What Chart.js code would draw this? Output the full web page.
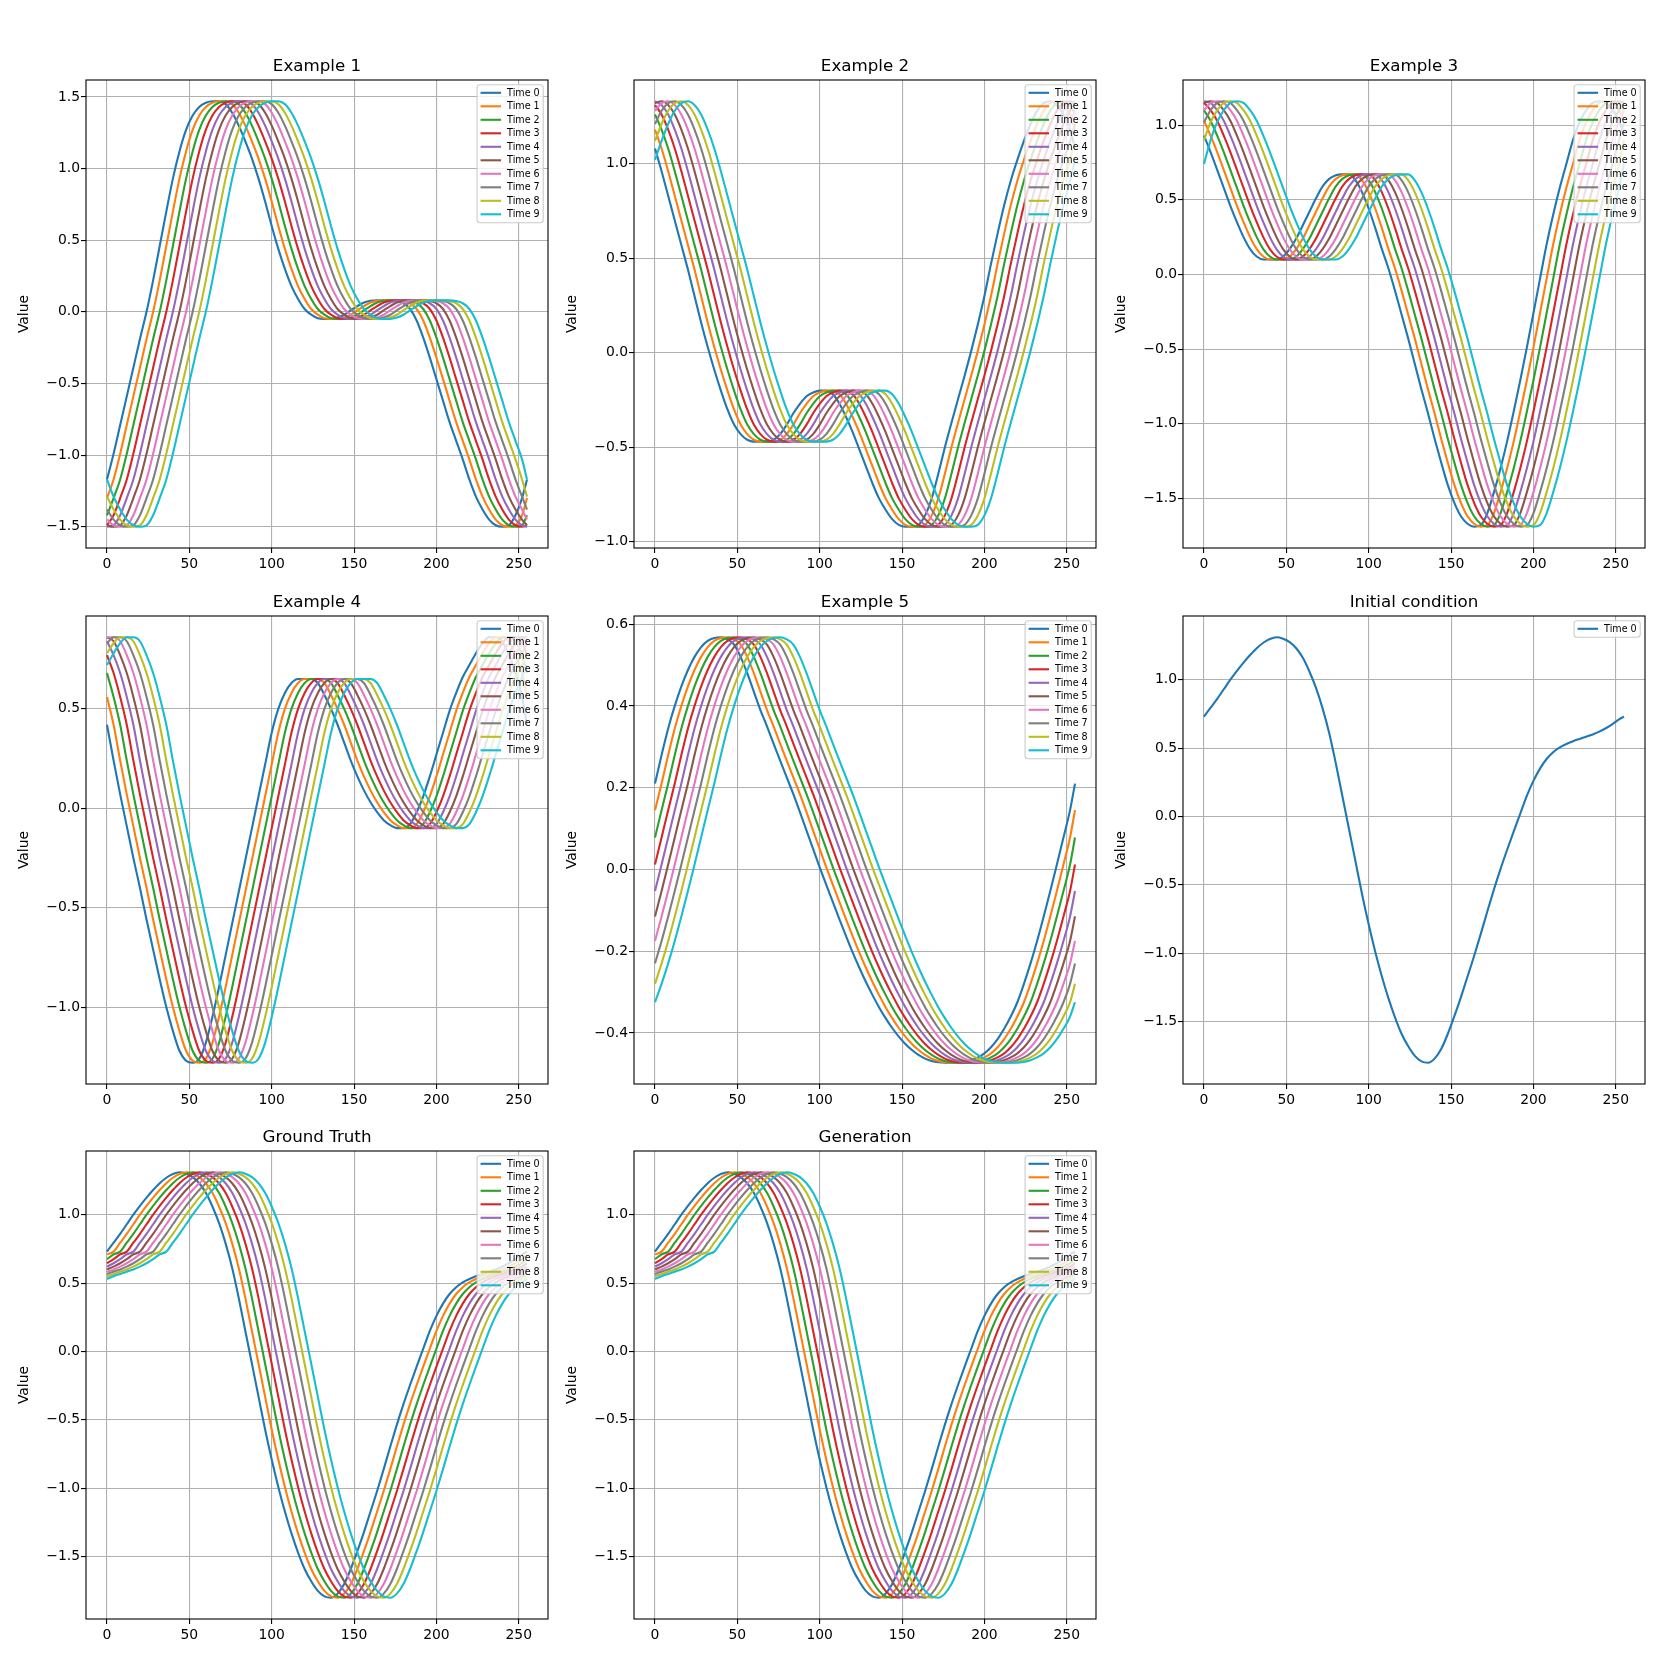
<!DOCTYPE html>
<html>
<head>
<meta charset="utf-8">
<title>Examples</title>
<script src="https://cdn.jsdelivr.net/npm/chart.js@4.4.1/dist/chart.umd.min.js"></script>
<style>
  html, body { margin: 0; padding: 0; background: #fff; }
  body { width: 1661px; height: 1661px; position: relative; overflow: hidden; }
  canvas { position: absolute; }
</style>
</head>
<body>
<script>
// Grid positions where the Time 0 curves were read (every 4th point of 0..255)
const gridX = [0, 4, 8, 12, 16, 20, 24, 28, 32, 36, 40, 44, 48, 52, 56, 60,
  64, 68, 72, 76, 80, 84, 88, 92, 96, 100, 104, 108, 112, 116, 120, 124,
  128, 132, 136, 140, 144, 148, 152, 156, 160, 164, 168, 172, 176, 180, 184, 188,
  192, 196, 200, 204, 208, 212, 216, 220, 224, 228, 232, 236, 240, 244, 248, 252];

// Time 0 values
const example1 = [-1.17, -0.99, -0.79, -0.59, -0.39, -0.19, 0.0, 0.22, 0.46, 0.7, 0.93, 1.12, 1.27, 1.37, 1.43, 1.46,
  1.47, 1.47, 1.45, 1.39, 1.3, 1.19, 1.07, 0.93, 0.77, 0.6, 0.44, 0.3, 0.18, 0.09, 0.02, -0.02,
  -0.045, -0.05, -0.05, -0.04, -0.02, 0.01, 0.04, 0.065, 0.078, 0.08, 0.08, 0.08, 0.075, 0.06, 0.02, -0.06,
  -0.18, -0.32, -0.47, -0.62, -0.77, -0.9, -1.03, -1.17, -1.29, -1.38, -1.45, -1.49, -1.5, -1.49, -1.42, -1.3];

const example2 = [1.08, 0.96, 0.83, 0.7, 0.57, 0.44, 0.3, 0.16, 0.03, -0.09, -0.2, -0.3, -0.38, -0.43, -0.46, -0.47,
  -0.47, -0.47, -0.46, -0.43, -0.38, -0.32, -0.27, -0.23, -0.21, -0.2, -0.2, -0.22, -0.27, -0.34, -0.42, -0.51,
  -0.6, -0.69, -0.77, -0.83, -0.88, -0.91, -0.92, -0.92, -0.91, -0.86, -0.77, -0.64, -0.5, -0.37, -0.245, -0.12,
  0.01, 0.15, 0.3, 0.47, 0.63, 0.78, 0.91, 1.02, 1.12, 1.21, 1.28, 1.32, 1.33, 1.31, 1.26, 1.18];

const example3 = [0.93, 0.82, 0.7, 0.58, 0.46, 0.35, 0.25, 0.17, 0.12, 0.1, 0.1, 0.1, 0.12, 0.17, 0.24, 0.33,
  0.42, 0.51, 0.59, 0.64, 0.665, 0.67, 0.67, 0.63, 0.55, 0.44, 0.31, 0.17, 0.04, -0.11, -0.27, -0.43,
  -0.6, -0.77, -0.93, -1.1, -1.26, -1.41, -1.53, -1.62, -1.67, -1.69, -1.68, -1.6, -1.46, -1.3, -1.12, -0.92,
  -0.71, -0.49, -0.26, -0.03, 0.2, 0.4, 0.58, 0.74, 0.9, 1.02, 1.1, 1.15, 1.16, 1.15, 1.1, 1.03];

const example4 = [0.42, 0.24, 0.07, -0.09, -0.25, -0.4, -0.56, -0.71, -0.86, -1.0, -1.12, -1.22, -1.27, -1.28, -1.26, -1.18,
  -1.05, -0.9, -0.74, -0.58, -0.42, -0.26, -0.1, 0.06, 0.22, 0.38, 0.5, 0.58, 0.63, 0.65, 0.65, 0.65,
  0.63, 0.57, 0.5, 0.42, 0.33, 0.24, 0.16, 0.09, 0.03, -0.02, -0.06, -0.085, -0.1, -0.1, -0.08, -0.02,
  0.06, 0.16, 0.27, 0.38, 0.49, 0.58, 0.66, 0.72, 0.78, 0.83, 0.86, 0.86, 0.84, 0.77, 0.68, 0.56];

const example5 = [0.21, 0.28, 0.345, 0.4, 0.448, 0.488, 0.52, 0.544, 0.559, 0.566, 0.568, 0.563, 0.55, 0.52, 0.48, 0.435,
  0.39, 0.35, 0.308, 0.266, 0.225, 0.184, 0.14, 0.095, 0.05, 0.005, -0.038, -0.08, -0.122, -0.163, -0.203, -0.24,
  -0.275, -0.307, -0.337, -0.364, -0.388, -0.409, -0.427, -0.442, -0.454, -0.463, -0.469, -0.472, -0.473, -0.473, -0.473, -0.471,
  -0.467, -0.46, -0.45, -0.435, -0.415, -0.39, -0.36, -0.325, -0.28, -0.23, -0.175, -0.115, -0.053, 0.012, 0.078, 0.145];

// also Time 0 of "Ground Truth" and "Generation" (they look the same)
const initialCondition = [0.73, 0.795, 0.86, 0.93, 1.0, 1.065, 1.125, 1.18, 1.23, 1.27, 1.297, 1.31, 1.3, 1.275, 1.23, 1.16,
  1.06, 0.94, 0.79, 0.61, 0.39, 0.15, -0.09, -0.33, -0.57, -0.79, -0.99, -1.17, -1.33, -1.47, -1.59, -1.68,
  -1.75, -1.79, -1.8, -1.77, -1.7, -1.59, -1.46, -1.32, -1.17, -1.02, -0.86, -0.695, -0.535, -0.385, -0.245, -0.11,
  0.02, 0.15, 0.26, 0.35, 0.42, 0.47, 0.505, 0.53, 0.55, 0.567, 0.583, 0.6, 0.62, 0.645, 0.675, 0.71];

// each later time is the Time 0 curve moved right by one read step (4 points)
const stepsPerTime = 1;
const lastX = 255;

const timeLabels = ['Time 0', 'Time 1', 'Time 2', 'Time 3', 'Time 4', 'Time 5', 'Time 6', 'Time 7', 'Time 8', 'Time 9'];

const xTicks = [0, 50, 100, 150, 200, 250];
const yTicks1 = [-1.5, -1.0, -0.5, 0.0, 0.5, 1.0, 1.5];
const yTicks2 = [-1.0, -0.5, 0.0, 0.5, 1.0];
const yTicks3 = [-1.5, -1.0, -0.5, 0.0, 0.5, 1.0];
const yTicks4 = [-1.0, -0.5, 0.0, 0.5];
const yTicks5 = [-0.4, -0.2, 0.0, 0.2, 0.4, 0.6];
const yTicksIC = [-1.5, -1.0, -0.5, 0.0, 0.5, 1.0];

const colors = ['#1f77b4', '#ff7f0e', '#2ca02c', '#d62728', '#9467bd',
  '#8c564b', '#e377c2', '#7f7f7f', '#bcbd22', '#17becf'];

// axes boxes (left, top) in page pixels, all 462 x 468
const AX_W = 462, AX_H = 468, SIDE = 86, HEAD = 40;
const panels = [
  { title: 'Example 1', base: example1, yTicks: yTicks1, times: 10, left: 86, top: 80 },
  { title: 'Example 2', base: example2, yTicks: yTicks2, times: 10, left: 634, top: 80 },
  { title: 'Example 3', base: example3, yTicks: yTicks3, times: 10, left: 1183, top: 80 },
  { title: 'Example 4', base: example4, yTicks: yTicks4, times: 10, left: 86, top: 616 },
  { title: 'Example 5', base: example5, yTicks: yTicks5, times: 10, left: 634, top: 616 },
  { title: 'Initial condition', base: initialCondition, yTicks: yTicksIC, times: 1, left: 1183, top: 616 },
  { title: 'Ground Truth', base: initialCondition, yTicks: yTicksIC, times: 10, left: 86, top: 1151 },
  { title: 'Generation', base: initialCondition, yTicks: yTicksIC, times: 10, left: 634, top: 1151 }
];

Chart.defaults.font.family = '"DejaVu Sans", sans-serif';
Chart.defaults.color = '#000';

function series(base, k) {
  const n = base.length;
  const shift = k * stepsPerTime;
  const pts = gridX.map((x, j) => ({ x: x, y: base[(j - shift + n * 10) % n] }));
  // closing point: the value that wraps round from the start
  pts.push({ x: lastX, y: base[(n * 10 - shift) % n] });
  return pts;
}

function fmt(v) {
  return v.toFixed(1).replace('-', '\u2212');
}

// title centred over the plot area, not over the whole canvas
const axesTitle = {
  id: 'axesTitle',
  afterDraw(chart, args, opts) {
    const { ctx, chartArea: a } = chart;
    ctx.save();
    ctx.font = '16.7px "DejaVu Sans"';
    ctx.fillStyle = '#000';
    ctx.textAlign = 'center';
    ctx.textBaseline = 'alphabetic';
    ctx.fillText(opts.text, (a.left + a.right) / 2, a.top - 9.5);
    ctx.restore();
  }
};

// black frame round the plot area, drawn over the curves
const frame = {
  id: 'frame',
  afterDatasetsDraw(chart) {
    const { ctx, chartArea: a } = chart;
    ctx.save();
    ctx.strokeStyle = '#000';
    ctx.lineWidth = 1.1;
    ctx.strokeRect(a.left, a.top, a.right - a.left, a.bottom - a.top);
    ctx.restore();
  }
};

// legend in the upper right corner, inside the axes
const cornerLegend = {
  id: 'cornerLegend',
  afterDraw(chart) {
    const { ctx, chartArea } = chart;
    const sets = chart.data.datasets;
    const fs = 9.6, row = 13.5;
    ctx.save();
    ctx.font = fs + 'px "DejaVu Sans"';
    const textW = Math.max(...sets.map(d => ctx.measureText(d.label).width));
    const w = 30 + textW + 3.5;
    const h = 16.5 + (sets.length - 1) * row;
    const x = chartArea.right - 4.8 - w;
    const y = chartArea.top + 4.8;
    ctx.beginPath();
    ctx.roundRect(x, y, w, h, 3);
    ctx.fillStyle = 'rgba(255,255,255,0.8)';
    ctx.fill();
    ctx.strokeStyle = '#cccccc';
    ctx.lineWidth = 1.1;
    ctx.stroke();
    ctx.textBaseline = 'middle';
    sets.forEach((d, i) => {
      const cy = y + 8 + i * row;
      ctx.strokeStyle = d.borderColor;
      ctx.lineWidth = 2.1;
      ctx.beginPath();
      ctx.moveTo(x + 3.5, cy);
      ctx.lineTo(x + 24, cy);
      ctx.stroke();
      ctx.fillStyle = '#000';
      ctx.fillText(d.label, x + 30, cy + 0.5);
    });
    ctx.restore();
  }
};

panels.forEach(p => {
  const canvas = document.createElement('canvas');
  canvas.width = SIDE + AX_W + 10;
  canvas.height = HEAD + AX_H + 40;
  canvas.style.left = (p.left - SIDE) + 'px';
  canvas.style.top = (p.top - HEAD) + 'px';
  document.body.appendChild(canvas);

  const lo = Math.min(...p.base), hi = Math.max(...p.base);
  const pad = (hi - lo) * 0.05;

  const datasets = [];
  for (let k = 0; k < p.times; k++) {
    datasets.push({
      label: timeLabels[k],
      data: series(p.base, k),
      borderColor: colors[k],
      borderWidth: 2.1,
      pointRadius: 0,
      fill: false,
      cubicInterpolationMode: 'monotone',
      order: p.times - 1 - k
    });
  }

  new Chart(canvas, {
    type: 'line',
    data: { datasets: datasets },
    options: {
      responsive: false,
      animation: false,
      devicePixelRatio: 1,
      layout: { padding: { left: 0, right: 10, top: HEAD, bottom: 0 } },
      plugins: {
        legend: { display: false },
        tooltip: { enabled: false },
        title: { display: false },
        axesTitle: { text: p.title }
      },
      scales: {
        x: {
          type: 'linear',
          min: -0.05 * lastX,
          max: lastX * 1.05,
          afterBuildTicks: s => { s.ticks = xTicks.map(v => ({ value: v })); },
          afterFit: s => { s.height = 40; },
          ticks: { autoSkip: false, maxRotation: 0, padding: 3, color: '#000',
                   font: { size: 13.9 }, callback: v => String(v) },
          grid: { color: '#b0b0b0', lineWidth: 1.1, tickLength: 5, tickColor: '#000', tickWidth: 1.1 },
          border: { display: false }
        },
        y: {
          type: 'linear',
          min: lo - pad,
          max: hi + pad,
          afterBuildTicks: s => { s.ticks = p.yTicks.map(v => ({ value: v })); },
          afterFit: s => { s.width = SIDE; },
          ticks: { autoSkip: false, padding: 1, color: '#000',
                   font: { size: 13.9 }, callback: v => fmt(v) },
          grid: { color: '#b0b0b0', lineWidth: 1.1, tickLength: 5, tickColor: '#000', tickWidth: 1.1 },
          border: { display: false },
          title: { display: true, text: 'Value', color: '#000',
                   font: { size: 13.9 }, padding: { top: 15.7, bottom: 0 } }
        }
      }
    },
    plugins: [axesTitle, frame, cornerLegend]
  });
});
</script>
</body>
</html>
